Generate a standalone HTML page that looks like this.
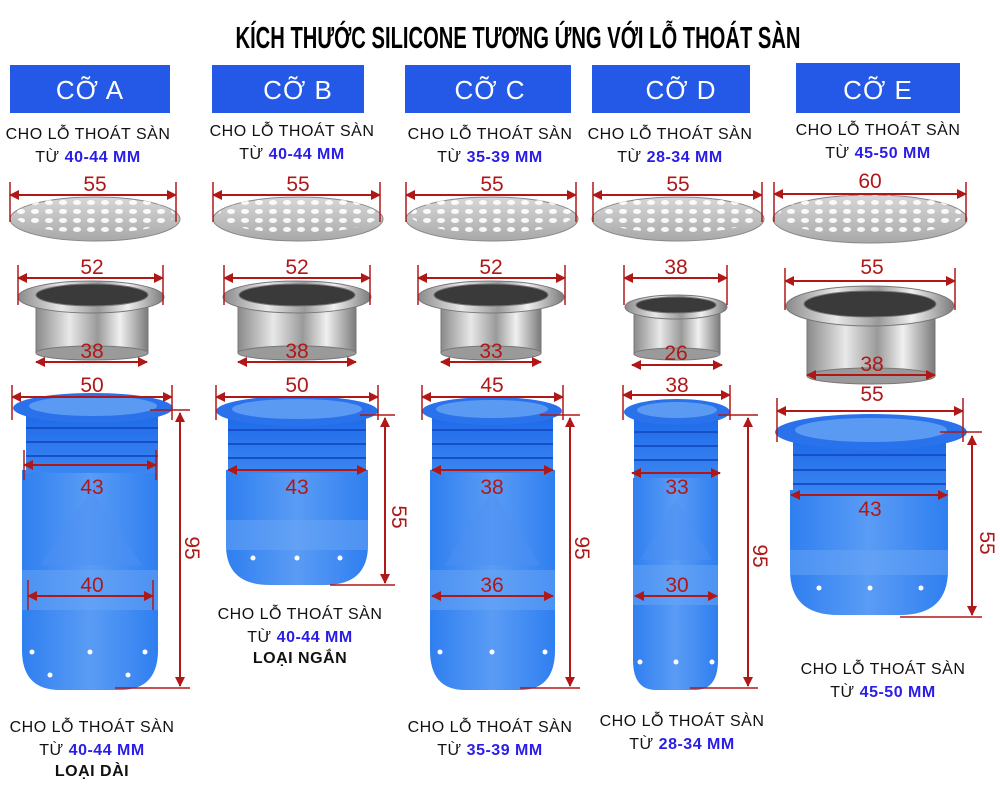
<!DOCTYPE html>
<html><head><meta charset="utf-8"><style>
html,body{margin:0;padding:0;background:#fff}
svg{display:block}
text{font-family:"Liberation Sans","DejaVu Sans",sans-serif}
.h{fill:#fff;font-size:26px;text-anchor:middle;letter-spacing:1px}
.c{fill:#111;font-size:16px;text-anchor:middle;letter-spacing:0.5px}
.b{fill:#2a1ee6;font-weight:bold}
.d{fill:#b01818;font-size:21px;text-anchor:middle}
.dl{stroke:#b01818;stroke-width:2;fill:none}
.tk{stroke:#b01818;stroke-width:1.5}
</style></head><body>
<svg width="1000" height="800" viewBox="0 0 1000 800" xmlns="http://www.w3.org/2000/svg">
<defs>
<marker id="a" markerWidth="10" markerHeight="10" refX="9" refY="5" orient="auto-start-reverse" markerUnits="userSpaceOnUse"><path d="M0,0 L10,5 L0,10 z" fill="#b01818"/></marker>
<linearGradient id="m" x1="0" x2="1"><stop offset="0" stop-color="#8a8a8a"/><stop offset="0.3" stop-color="#e8e8e8"/><stop offset="0.55" stop-color="#9a9a9a"/><stop offset="0.75" stop-color="#f0f0f0"/><stop offset="1" stop-color="#7a7a7a"/></linearGradient>
<linearGradient id="g" x1="0" x2="0" y1="0" y2="1"><stop offset="0" stop-color="#d8d8d8"/><stop offset="1" stop-color="#a8a8a8"/></linearGradient>
<linearGradient id="bl" x1="0" x2="1"><stop offset="0" stop-color="#2f7ff0"/><stop offset="0.5" stop-color="#5a9cf5"/><stop offset="1" stop-color="#2f7ff0"/></linearGradient>
<linearGradient id="bt" x1="0" x2="0" y1="0" y2="1"><stop offset="0" stop-color="#1f6ae8"/><stop offset="1" stop-color="#3a86f2"/></linearGradient>
<pattern id="holes" width="14" height="9" patternUnits="userSpaceOnUse"><ellipse cx="7" cy="4.5" rx="4" ry="2.5" fill="#fff"/></pattern>
</defs>

<text x="518" y="48" text-anchor="middle" font-size="31" font-weight="bold" fill="#000" textLength="565" lengthAdjust="spacingAndGlyphs">KÍCH THƯỚC SILICONE TƯƠNG ỨNG VỚI LỖ THOÁT SÀN</text>

<!-- headers -->
<rect x="10" y="65" width="160" height="48" fill="#2459e8"/><text class="h" x="90" y="99">CỠ A</text>
<rect x="212" y="65" width="152" height="48" fill="#2459e8"/><text class="h" x="298" y="99" font-size="23">CỠ B</text>
<rect x="405" y="65" width="166" height="48" fill="#2459e8"/><text class="h" x="490" y="99" font-size="23">CỠ C</text>
<rect x="592" y="65" width="158" height="48" fill="#2459e8"/><text class="h" x="681" y="99" font-size="23">CỠ D</text>
<rect x="796" y="63" width="164" height="50" fill="#2459e8"/><text class="h" x="878" y="99" font-size="23">CỠ E</text>

<!-- captions top -->
<text class="c" x="88" y="139">CHO LỖ THOÁT SÀN</text><text class="c" x="88" y="162">TỪ <tspan class="b">40-44 MM</tspan></text>
<text class="c" x="292" y="136">CHO LỖ THOÁT SÀN</text><text class="c" x="292" y="159">TỪ <tspan class="b">40-44 MM</tspan></text>
<text class="c" x="490" y="139">CHO LỖ THOÁT SÀN</text><text class="c" x="490" y="162">TỪ <tspan class="b">35-39 MM</tspan></text>
<text class="c" x="670" y="139">CHO LỖ THOÁT SÀN</text><text class="c" x="670" y="162">TỪ <tspan class="b">28-34 MM</tspan></text>
<text class="c" x="878" y="135">CHO LỖ THOÁT SÀN</text><text class="c" x="878" y="158">TỪ <tspan class="b">45-50 MM</tspan></text>

<!-- grates -->
<g>
<ellipse cx="95" cy="219" rx="85" ry="22" fill="url(#g)" stroke="#888"/><ellipse cx="95" cy="215" rx="80" ry="18" fill="url(#holes)" opacity="0.9"/>
<ellipse cx="298" cy="219" rx="85" ry="22" fill="url(#g)" stroke="#888"/><ellipse cx="298" cy="215" rx="80" ry="18" fill="url(#holes)" opacity="0.9"/>
<ellipse cx="492" cy="219" rx="86" ry="22" fill="url(#g)" stroke="#888"/><ellipse cx="492" cy="215" rx="81" ry="18" fill="url(#holes)" opacity="0.9"/>
<ellipse cx="678" cy="219" rx="86" ry="22" fill="url(#g)" stroke="#888"/><ellipse cx="678" cy="215" rx="81" ry="18" fill="url(#holes)" opacity="0.9"/>
<ellipse cx="870" cy="219" rx="97" ry="24" fill="url(#g)" stroke="#888"/><ellipse cx="870" cy="215" rx="92" ry="20" fill="url(#holes)" opacity="0.9"/>
</g>
<!-- grate dims -->
<g class="dl">
<line x1="10" y1="195" x2="176" y2="195" marker-start="url(#a)" marker-end="url(#a)"/>
<line x1="213" y1="195" x2="380" y2="195" marker-start="url(#a)" marker-end="url(#a)"/>
<line x1="406" y1="195" x2="576" y2="195" marker-start="url(#a)" marker-end="url(#a)"/>
<line x1="593" y1="195" x2="762" y2="195" marker-start="url(#a)" marker-end="url(#a)"/>
<line x1="774" y1="194" x2="966" y2="194" marker-start="url(#a)" marker-end="url(#a)"/>
</g>
<g class="tk"><line x1="10" y1="182" x2="10" y2="222"/><line x1="176" y1="182" x2="176" y2="222"/><line x1="213" y1="182" x2="213" y2="222"/><line x1="380" y1="182" x2="380" y2="222"/><line x1="406" y1="182" x2="406" y2="222"/><line x1="576" y1="182" x2="576" y2="222"/><line x1="593" y1="182" x2="593" y2="222"/><line x1="762" y1="182" x2="762" y2="222"/><line x1="774" y1="182" x2="774" y2="222"/><line x1="966" y1="182" x2="966" y2="222"/></g>
<text class="d" x="95" y="191">55</text><text class="d" x="298" y="191">55</text><text class="d" x="492" y="191">55</text><text class="d" x="678" y="191">55</text><text class="d" x="870" y="188" font-size="18">60</text>

<!-- rings -->
<g stroke="#777">
<rect x="36" y="297" width="112" height="56" fill="url(#m)"/><ellipse cx="92" cy="353" rx="56" ry="7" fill="#9a9a9a"/><ellipse cx="91" cy="297" rx="73" ry="16" fill="url(#m)"/><ellipse cx="92" cy="295" rx="56" ry="11" fill="#3a3a3a"/>
<rect x="238" y="297" width="118" height="56" fill="url(#m)"/><ellipse cx="297" cy="353" rx="59" ry="7" fill="#9a9a9a"/><ellipse cx="297" cy="297" rx="74" ry="16" fill="url(#m)"/><ellipse cx="297" cy="295" rx="58" ry="11" fill="#3a3a3a"/>
<rect x="441" y="297" width="100" height="56" fill="url(#m)"/><ellipse cx="491" cy="353" rx="50" ry="7" fill="#9a9a9a"/><ellipse cx="491" cy="297" rx="73" ry="16" fill="url(#m)"/><ellipse cx="491" cy="295" rx="57" ry="11" fill="#3a3a3a"/>
<rect x="634" y="308" width="86" height="46" fill="url(#m)"/><ellipse cx="677" cy="354" rx="43" ry="6" fill="#9a9a9a"/><ellipse cx="676" cy="307" rx="51" ry="12" fill="url(#m)"/><ellipse cx="676" cy="305" rx="40" ry="8" fill="#3a3a3a"/>
<rect x="807" y="310" width="128" height="66" fill="url(#m)"/><ellipse cx="871" cy="376" rx="64" ry="8" fill="#9a9a9a"/><ellipse cx="870" cy="306" rx="84" ry="20" fill="url(#m)"/><ellipse cx="870" cy="304" rx="66" ry="13" fill="#3a3a3a"/>
</g>
<g class="dl">
<line x1="18" y1="278" x2="163" y2="278" marker-start="url(#a)" marker-end="url(#a)"/>
<line x1="36" y1="362" x2="147" y2="362" marker-start="url(#a)" marker-end="url(#a)"/>
<line x1="224" y1="278" x2="370" y2="278" marker-start="url(#a)" marker-end="url(#a)"/>
<line x1="238" y1="362" x2="356" y2="362" marker-start="url(#a)" marker-end="url(#a)"/>
<line x1="418" y1="278" x2="565" y2="278" marker-start="url(#a)" marker-end="url(#a)"/>
<line x1="441" y1="362" x2="541" y2="362" marker-start="url(#a)" marker-end="url(#a)"/>
<line x1="624" y1="278" x2="727" y2="278" marker-start="url(#a)" marker-end="url(#a)"/>
<line x1="632" y1="365" x2="722" y2="365" marker-start="url(#a)" marker-end="url(#a)"/>
<line x1="785" y1="281" x2="955" y2="281" marker-start="url(#a)" marker-end="url(#a)"/>
<line x1="807" y1="375" x2="935" y2="375" marker-start="url(#a)" marker-end="url(#a)"/>
</g>
<g class="tk"><line x1="18" y1="265" x2="18" y2="305"/><line x1="163" y1="265" x2="163" y2="305"/><line x1="224" y1="265" x2="224" y2="305"/><line x1="370" y1="265" x2="370" y2="305"/><line x1="418" y1="265" x2="418" y2="305"/><line x1="565" y1="265" x2="565" y2="305"/><line x1="624" y1="265" x2="624" y2="305"/><line x1="727" y1="265" x2="727" y2="305"/><line x1="785" y1="268" x2="785" y2="310"/><line x1="955" y1="268" x2="955" y2="310"/></g>
<text class="d" x="92" y="274">52</text><text class="d" x="92" y="358">38</text>
<text class="d" x="297" y="274">52</text><text class="d" x="297" y="358">38</text>
<text class="d" x="491" y="274">52</text><text class="d" x="491" y="358">33</text>
<text class="d" x="676" y="274">38</text><text class="d" x="676" y="360">26</text>
<text class="d" x="872" y="274" font-size="18">55</text><text class="d" x="872" y="371">38</text>

<!-- blue bodies -->
<g>
<!-- A -->
<path d="M22,470 H158 V650 Q158,690 120,690 H60 Q22,690 22,650 Z" fill="url(#bl)"/>
<rect x="22" y="570" width="136" height="40" fill="#6aa6f5" opacity="0.5"/>
<path d="M40,565 L92,490 L142,565 Z" fill="#4d8ff2" opacity="0.5"/>
<rect x="26" y="415" width="132" height="58" fill="url(#bt)"/>
<g stroke="#1550c8" stroke-width="2"><line x1="26" y1="428" x2="158" y2="428"/><line x1="26" y1="442" x2="158" y2="442"/><line x1="26" y1="456" x2="158" y2="456"/></g>
<ellipse cx="93" cy="408" rx="80" ry="15" fill="#2a72ec"/><ellipse cx="93" cy="406" rx="64" ry="10" fill="#5a9af2"/>
<!-- B -->
<path d="M226,470 H368 V545 Q368,585 325,585 H270 Q226,585 226,545 Z" fill="url(#bl)"/>
<rect x="226" y="520" width="142" height="30" fill="#6aa6f5" opacity="0.5"/>
<rect x="228" y="418" width="138" height="55" fill="url(#bt)"/>
<g stroke="#1550c8" stroke-width="2"><line x1="228" y1="430" x2="366" y2="430"/><line x1="228" y1="444" x2="366" y2="444"/><line x1="228" y1="458" x2="366" y2="458"/></g>
<ellipse cx="297" cy="411" rx="81" ry="15" fill="#2a72ec"/><ellipse cx="297" cy="409" rx="65" ry="10" fill="#5a9af2"/>
<!-- C -->
<path d="M430,470 H555 V650 Q555,690 520,690 H465 Q430,690 430,650 Z" fill="url(#bl)"/>
<rect x="430" y="570" width="125" height="40" fill="#6aa6f5" opacity="0.5"/>
<path d="M445,565 L492,490 L540,565 Z" fill="#4d8ff2" opacity="0.5"/>
<rect x="432" y="418" width="121" height="55" fill="url(#bt)"/>
<g stroke="#1550c8" stroke-width="2"><line x1="432" y1="430" x2="553" y2="430"/><line x1="432" y1="444" x2="553" y2="444"/><line x1="432" y1="458" x2="553" y2="458"/></g>
<ellipse cx="492" cy="411" rx="70" ry="14" fill="#2a72ec"/><ellipse cx="492" cy="409" rx="56" ry="9" fill="#5a9af2"/>
<!-- D -->
<path d="M633,478 H718 V660 Q718,690 695,690 H656 Q633,690 633,660 Z" fill="url(#bl)"/>
<rect x="633" y="565" width="85" height="40" fill="#6aa6f5" opacity="0.5"/>
<path d="M640,560 L676,500 L712,560 Z" fill="#4d8ff2" opacity="0.5"/>
<rect x="634" y="418" width="84" height="60" fill="url(#bt)"/>
<g stroke="#1550c8" stroke-width="2"><line x1="634" y1="432" x2="718" y2="432"/><line x1="634" y1="446" x2="718" y2="446"/><line x1="634" y1="460" x2="718" y2="460"/></g>
<ellipse cx="677" cy="412" rx="53" ry="13" fill="#2a72ec"/><ellipse cx="677" cy="410" rx="40" ry="8" fill="#5a9af2"/>
<!-- E -->
<path d="M790,490 H948 V570 Q948,615 900,615 H838 Q790,615 790,570 Z" fill="url(#bl)"/>
<rect x="790" y="550" width="158" height="25" fill="#6aa6f5" opacity="0.5"/>
<rect x="793" y="440" width="153" height="55" fill="url(#bt)"/>
<g stroke="#1550c8" stroke-width="2"><line x1="793" y1="455" x2="946" y2="455"/><line x1="793" y1="470" x2="946" y2="470"/><line x1="793" y1="484" x2="946" y2="484"/></g>
<ellipse cx="871" cy="432" rx="96" ry="18" fill="#2a72ec"/><ellipse cx="871" cy="430" rx="76" ry="12" fill="#5a9af2"/>
</g>
<g fill="#fff">
<circle cx="32" cy="652" r="2.5"/><circle cx="90" cy="652" r="2.5"/><circle cx="145" cy="652" r="2.5"/><circle cx="50" cy="675" r="2.5"/><circle cx="128" cy="675" r="2.5"/>
<circle cx="253" cy="558" r="2.5"/><circle cx="297" cy="558" r="2.5"/><circle cx="340" cy="558" r="2.5"/>
<circle cx="440" cy="652" r="2.5"/><circle cx="492" cy="652" r="2.5"/><circle cx="545" cy="652" r="2.5"/>
<circle cx="640" cy="662" r="2.5"/><circle cx="676" cy="662" r="2.5"/><circle cx="712" cy="662" r="2.5"/>
<circle cx="819" cy="588" r="2.5"/><circle cx="870" cy="588" r="2.5"/><circle cx="921" cy="588" r="2.5"/>
</g>

<!-- blue dims -->
<g class="dl">
<line x1="12" y1="397" x2="172" y2="397" marker-start="url(#a)" marker-end="url(#a)"/>
<line x1="24" y1="465" x2="156" y2="465" marker-start="url(#a)" marker-end="url(#a)"/>
<line x1="28" y1="596" x2="153" y2="596" marker-start="url(#a)" marker-end="url(#a)"/>
<line x1="180" y1="413" x2="180" y2="686" marker-start="url(#a)" marker-end="url(#a)"/>
<line x1="216" y1="397" x2="378" y2="397" marker-start="url(#a)" marker-end="url(#a)"/>
<line x1="228" y1="470" x2="366" y2="470" marker-start="url(#a)" marker-end="url(#a)"/>
<line x1="385" y1="418" x2="385" y2="583" marker-start="url(#a)" marker-end="url(#a)"/>
<line x1="422" y1="397" x2="563" y2="397" marker-start="url(#a)" marker-end="url(#a)"/>
<line x1="432" y1="470" x2="553" y2="470" marker-start="url(#a)" marker-end="url(#a)"/>
<line x1="432" y1="596" x2="553" y2="596" marker-start="url(#a)" marker-end="url(#a)"/>
<line x1="570" y1="418" x2="570" y2="686" marker-start="url(#a)" marker-end="url(#a)"/>
<line x1="623" y1="395" x2="730" y2="395" marker-start="url(#a)" marker-end="url(#a)"/>
<line x1="632" y1="473" x2="720" y2="473" marker-start="url(#a)" marker-end="url(#a)"/>
<line x1="635" y1="596" x2="717" y2="596" marker-start="url(#a)" marker-end="url(#a)"/>
<line x1="748" y1="418" x2="748" y2="686" marker-start="url(#a)" marker-end="url(#a)"/>
<line x1="777" y1="411" x2="963" y2="411" marker-start="url(#a)" marker-end="url(#a)"/>
<line x1="791" y1="495" x2="947" y2="495" marker-start="url(#a)" marker-end="url(#a)"/>
<line x1="972" y1="436" x2="972" y2="615" marker-start="url(#a)" marker-end="url(#a)"/>
</g>
<g class="tk">
<line x1="12" y1="385" x2="12" y2="420"/><line x1="172" y1="385" x2="172" y2="420"/><line x1="150" y1="410" x2="190" y2="410"/><line x1="115" y1="688" x2="190" y2="688"/>
<line x1="24" y1="450" x2="24" y2="480"/><line x1="156" y1="450" x2="156" y2="480"/><line x1="28" y1="580" x2="28" y2="610"/><line x1="153" y1="580" x2="153" y2="610"/>
<line x1="216" y1="385" x2="216" y2="420"/><line x1="378" y1="385" x2="378" y2="420"/><line x1="360" y1="415" x2="395" y2="415"/><line x1="330" y1="585" x2="395" y2="585"/>
<line x1="422" y1="385" x2="422" y2="420"/><line x1="563" y1="385" x2="563" y2="420"/><line x1="540" y1="415" x2="580" y2="415"/><line x1="520" y1="688" x2="580" y2="688"/>
<line x1="623" y1="385" x2="623" y2="420"/><line x1="730" y1="385" x2="730" y2="420"/><line x1="718" y1="415" x2="758" y2="415"/><line x1="690" y1="688" x2="758" y2="688"/>
<line x1="777" y1="398" x2="777" y2="442"/><line x1="963" y1="398" x2="963" y2="442"/><line x1="940" y1="432" x2="982" y2="432"/><line x1="900" y1="617" x2="982" y2="617"/>
</g>
<text class="d" x="92" y="392">50</text><text class="d" x="92" y="494">43</text><text class="d" x="92" y="592">40</text>
<text class="d" x="297" y="392">50</text><text class="d" x="297" y="494">43</text>
<text class="d" x="492" y="392">45</text><text class="d" x="492" y="494">38</text><text class="d" x="492" y="592">36</text>
<text class="d" x="677" y="392">38</text><text class="d" x="677" y="494">33</text><text class="d" x="677" y="592">30</text>
<text class="d" x="872" y="401" font-size="18">55</text><text class="d" x="870" y="516">43</text>
<text class="d" transform="translate(185,548) rotate(90)">95</text>
<text class="d" transform="translate(392,517) rotate(90)">55</text>
<text class="d" transform="translate(575,548) rotate(90)">95</text>
<text class="d" transform="translate(753,556) rotate(90)">95</text>
<text class="d" transform="translate(980,543) rotate(90)">55</text>

<!-- bottom captions -->
<text class="c" x="300" y="619">CHO LỖ THOÁT SÀN</text><text class="c" x="300" y="642">TỪ <tspan class="b">40-44 MM</tspan></text><text class="c" x="300" y="663" font-weight="bold" font-size="14">LOẠI NGẮN</text>
<text class="c" x="883" y="674">CHO LỖ THOÁT SÀN</text><text class="c" x="883" y="697">TỪ <tspan class="b">45-50 MM</tspan></text>
<text class="c" x="92" y="732">CHO LỖ THOÁT SÀN</text><text class="c" x="92" y="755">TỪ <tspan class="b">40-44 MM</tspan></text><text class="c" x="92" y="776" font-weight="bold" font-size="14">LOẠI DÀI</text>
<text class="c" x="490" y="732">CHO LỖ THOÁT SÀN</text><text class="c" x="490" y="755">TỪ <tspan class="b">35-39 MM</tspan></text>
<text class="c" x="682" y="726">CHO LỖ THOÁT SÀN</text><text class="c" x="682" y="749">TỪ <tspan class="b">28-34 MM</tspan></text>
</svg>
</body></html>
